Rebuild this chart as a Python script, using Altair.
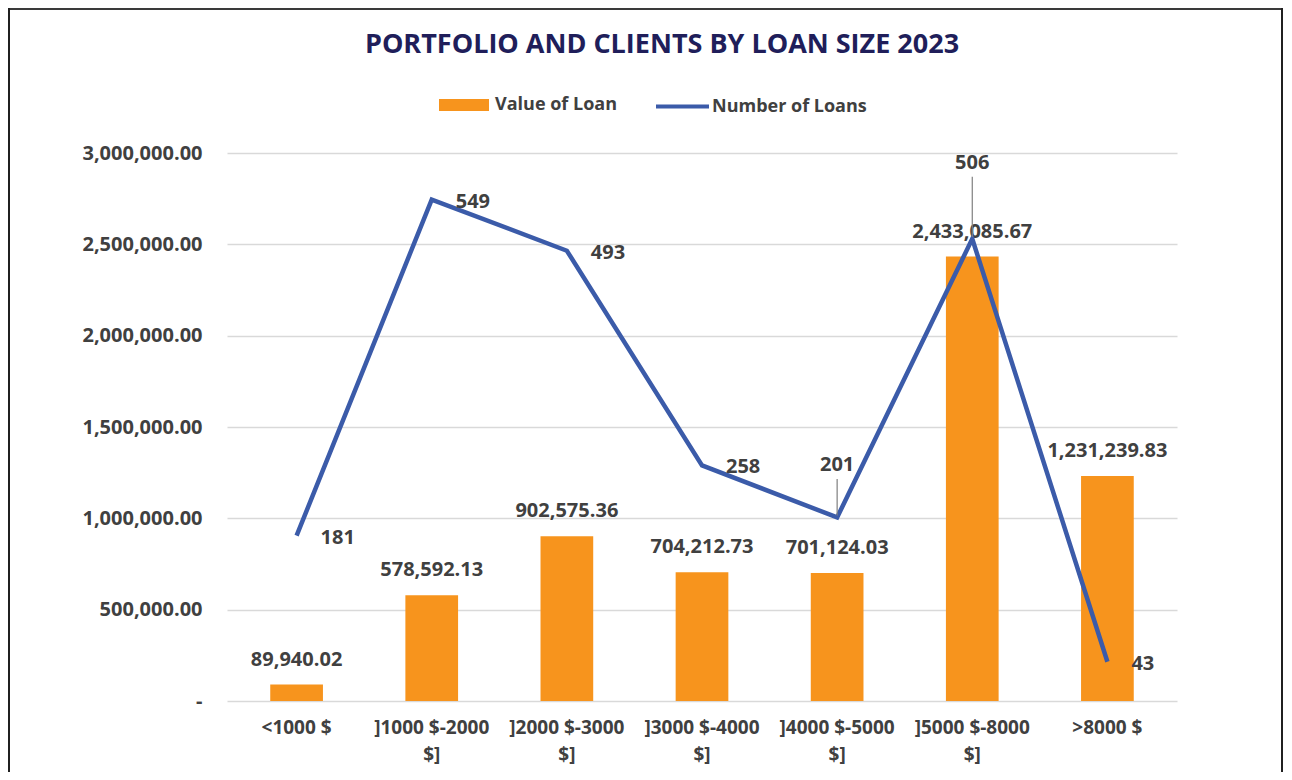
import altair as alt
import pandas as pd

title_text = "PORTFOLIO AND CLIENTS BY LOAN SIZE 2023"
categories = ["<1000 $", "]1000 $-2000 $]", "]2000 $-3000 $]", "]3000 $-4000 $]",
              "]4000 $-5000 $]", "]5000 $-8000 $]", ">8000 $"]
loan_values = [89940.02, 578592.13, 902575.36, 704212.73, 701124.03, 2433085.67, 1231239.83]
loan_counts = [181, 549, 493, 258, 201, 506, 43]
# count labels drawn above the point with a leader line (as in the original)
leader_labels = ["]4000 $-5000 $]", "]5000 $-8000 $]"]
left_ticks = [0, 500000, 1000000, 1500000, 2000000, 2500000, 3000000]
right_ticks = [0, 100, 200, 300, 400, 500, 600]

df = pd.DataFrame({"cat": categories, "value": loan_values, "count": loan_counts})
df["leader"] = df["cat"].isin(leader_labels)

FONT = "Open Sans"
GRAY = "#404040"
ORANGE = "#F7941D"
BLUE = "#3B5BA9"

W, H = 950, 548

x_enc = alt.X(
    "cat:N", sort=categories, title=None,
    scale=alt.Scale(paddingInner=0.61, paddingOuter=0.32),
    axis=alt.Axis(
        labelExpr="length(datum.label) > 10 ? [slice(datum.label, 0, length(datum.label) - 3), slice(datum.label, -2)] : datum.label",
        labelAngle=0, domain=False, ticks=False, labelPadding=17,
        labelFont=FONT, labelFontSize=19, labelFontWeight="bold", labelColor=GRAY,
        labelLineHeight=27,
    ),
)

y_left = alt.Y(
    "value:Q", title=None,
    scale=alt.Scale(domain=[0, 3000000], nice=False),
    axis=alt.Axis(
        values=left_ticks, grid=True, gridColor="#D9D9D9", gridWidth=1.5,
        domain=False, ticks=False, labelPadding=25,
        labelExpr="datum.value == 0 ? '-' : format(datum.value, ',.2f')",
        labelFont=FONT, labelFontSize=20, labelFontWeight="bold", labelColor=GRAY,
    ),
)

y_right = alt.Y(
    "count:Q", title=None,
    scale=alt.Scale(domain=[0, 600], nice=False),
    axis=alt.Axis(
        orient="right", values=right_ticks, grid=False,
        domain=False, ticks=False, labelPadding=19,
        labelFont=FONT, labelFontSize=20, labelFontWeight="bold", labelColor=GRAY,
    ),
)

base = alt.Chart(df)

bars = base.mark_bar(color=ORANGE).encode(
    x=x_enc, y=y_left,
    fill=alt.Fill("series_b:N", scale=alt.Scale(domain=["Value of Loan"], range=[ORANGE]),
                  legend=alt.Legend(
                      title=None, orient="none", legendX=212, legendY=-73,
                      symbolType="M-1,-0.24H1V0.24H-1Z", symbolSize=2500,
                      symbolStrokeWidth=0, padding=0, labelOffset=6,
                      labelFont=FONT, labelFontSize=18, labelFontWeight="bold",
                      labelColor=GRAY,
                  )),
).transform_calculate(series_b="'Value of Loan'")

bar_text = base.mark_text(
    font=FONT, fontSize=20, fontWeight="bold", color=GRAY, dy=-25, baseline="middle"
).encode(x=x_enc, y=y_left, text=alt.Text("value:Q", format=",.2f"))

line = base.mark_line(strokeWidth=4.5, color=BLUE).encode(
    x=x_enc, y=y_right,
    stroke=alt.Stroke("series_l:N", scale=alt.Scale(domain=["Number of Loans"], range=[BLUE]),
                      legend=alt.Legend(
                          title=None, orient="none", legendX=427, legendY=-75,
                          symbolType="stroke", symbolSize=2809, symbolStrokeWidth=4,
                          padding=0, labelOffset=1,
                          labelFont=FONT, labelFontSize=18, labelFontWeight="bold",
                          labelColor=GRAY,
                      )),
).transform_calculate(series_l="'Number of Loans'")

line_text = base.transform_filter("!datum.leader").mark_text(
    font=FONT, fontSize=20, fontWeight="bold", color=GRAY,
    align="left", baseline="middle", dx=24, dy=2,
).encode(x=x_enc, y=y_right, text="count:Q")

lead = base.transform_filter("datum.leader").transform_calculate(
    lift="datum.count > 400 ? 83 : 57",
    ytext="datum.count + datum.lift",
    ytop="datum.count + datum.lift - 15",
    ybot="datum.count + 2",
)

lead_text = lead.mark_text(
    font=FONT, fontSize=20, fontWeight="bold", color=GRAY, baseline="middle",
).encode(x=x_enc, y=alt.Y("ytext:Q", scale=alt.Scale(domain=[0, 600], nice=False), axis=None),
         text="count:Q")

lead_rule = lead.mark_rule(color="#7F7F7F", strokeWidth=1.2).encode(
    x=x_enc,
    y=alt.Y("ybot:Q", scale=alt.Scale(domain=[0, 600], nice=False), axis=None),
    y2="ytop:Q",
)

left_group = alt.layer(bars, bar_text)
right_group = alt.layer(line, line_text, lead_text, lead_rule)

frame_df = pd.DataFrame({"title": [title_text]})
frame = alt.Chart(frame_df)
title_mark = frame.mark_text(
    font=FONT, fontSize=27, fontWeight="bold", color="#201E5A",
    align="center", baseline="middle",
).encode(x=alt.value(435), y=alt.value(-108), text="title:N")
border_top = frame.mark_rule(color="#3A3A3A", strokeWidth=2).encode(
    x=alt.value(-219), x2=alt.value(1056), y=alt.value(-144))
border_left = frame.mark_rule(color="#202020", strokeWidth=2).encode(
    x=alt.value(-218), y=alt.value(-145), y2=alt.value(620))
border_right = frame.mark_rule(color="#202020", strokeWidth=2).encode(
    x=alt.value(1055), y=alt.value(-145), y2=alt.value(620))

chart = alt.layer(left_group, right_group, title_mark, border_top, border_left, border_right).resolve_scale(
    y="independent", fill="independent", stroke="independent"
).properties(
    width=W, height=H,
    autosize=alt.AutoSizeParams(type="none"),
    padding={"left": 219, "top": 145, "right": 107, "bottom": 71},
).configure_view(stroke=None)

chart.save("out.html", embed_options={"renderer": "svg", "actions": False})
